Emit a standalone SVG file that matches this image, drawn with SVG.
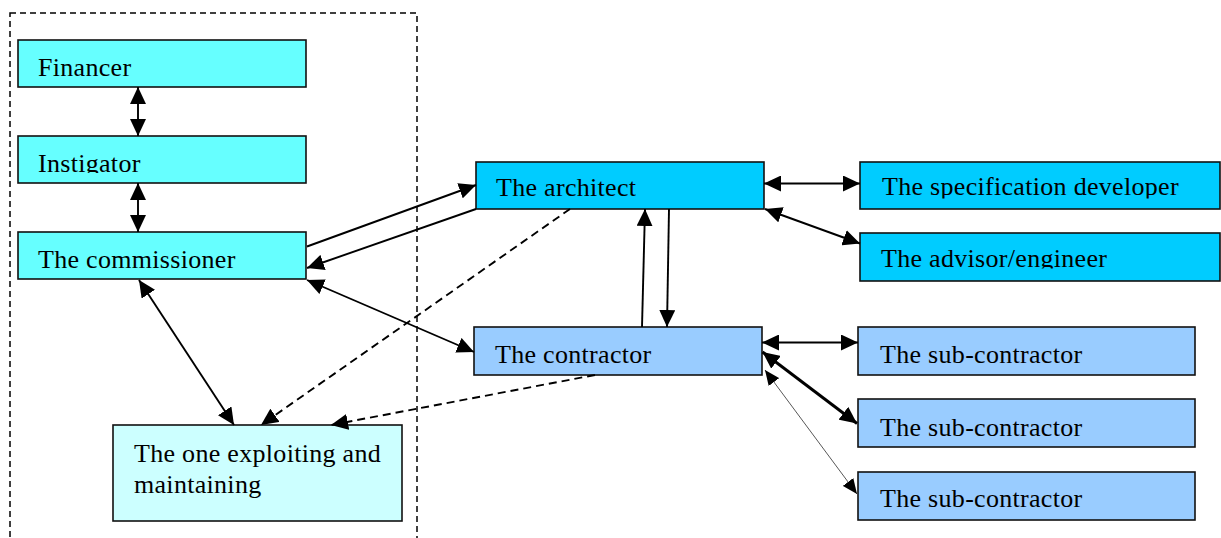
<svg xmlns="http://www.w3.org/2000/svg" width="1221" height="538" viewBox="0 0 1221 538">
  <style>
    .box { stroke: #111; stroke-width: 1.6; }
    .c1 { fill: #66FFFF; }
    .c2 { fill: #00CCFF; }
    .c3 { fill: #99CCFF; }
    .c4 { fill: #CCFFFF; }
    .lbl { font-family: "Liberation Serif", "Times New Roman", serif; font-size: 26px; letter-spacing: 0.3px; fill: #000; }
    .ln { stroke: #000; stroke-width: 1.9; fill: none; }
    .dash { stroke-dasharray: 8 5; }
    .frame { fill: none; stroke: #000; stroke-width: 1.5; stroke-dasharray: 6 4; }
  </style>
  <defs>
    <marker id="ah" markerUnits="userSpaceOnUse" markerWidth="17" markerHeight="16" refX="17" refY="8" orient="auto-start-reverse">
      <path d="M0,0 L17,8 L0,16 z" fill="#000"/>
    </marker>
    <marker id="ahs" markerUnits="userSpaceOnUse" markerWidth="15" markerHeight="13" refX="15" refY="6.5" orient="auto-start-reverse">
      <path d="M0,0 L15,6.5 L0,13 z" fill="#000"/>
    </marker>
    <clipPath id="clipInst"><rect x="18" y="136" width="288" height="37"/></clipPath>
    <clipPath id="clipSpec"><rect x="860" y="162" width="360" height="36.5"/></clipPath>
    <clipPath id="clipAdv"><rect x="860" y="233" width="360" height="35.5"/></clipPath>
  </defs>

  <rect width="1221" height="538" fill="#fff"/>

  <!-- client-side boundary, open at the bottom -->
  <rect class="frame" x="10" y="13" width="407" height="600"/>

  <g id="financer">
    <rect class="box c1" x="18" y="40" width="288" height="47"/>
    <text class="lbl" x="38" y="76">Financer</text>
  </g>
  <g id="instigator">
    <rect class="box c1" x="18" y="136" width="288" height="47"/>
    <text class="lbl" x="38" y="172" clip-path="url(#clipInst)">Instigator</text>
  </g>
  <g id="commissioner">
    <rect class="box c1" x="18" y="232" width="288" height="47"/>
    <text class="lbl" x="38" y="268">The commissioner</text>
  </g>
  <g id="exploiting">
    <rect class="box c4" x="113" y="425" width="289" height="96"/>
    <text class="lbl" x="134" y="462">The one exploiting and</text>
    <text class="lbl" x="134" y="493">maintaining</text>
  </g>
  <g id="architect">
    <rect class="box c2" x="476" y="162" width="288" height="47"/>
    <text class="lbl" x="496" y="196">The architect</text>
  </g>
  <g id="spec-developer">
    <rect class="box c2" x="860" y="162" width="360" height="47"/>
    <text class="lbl" x="882" y="195" clip-path="url(#clipSpec)">The specification developer</text>
  </g>
  <g id="advisor">
    <rect class="box c2" x="860" y="233" width="360" height="48"/>
    <text class="lbl" x="881" y="267" clip-path="url(#clipAdv)">The advisor/engineer</text>
  </g>
  <g id="contractor">
    <rect class="box c3" x="474" y="327" width="288" height="48"/>
    <text class="lbl" x="495" y="363">The contractor</text>
  </g>
  <g id="sub1">
    <rect class="box c3" x="858" y="327" width="337" height="48"/>
    <text class="lbl" x="880" y="363">The sub-contractor</text>
  </g>
  <g id="sub2">
    <rect class="box c3" x="858" y="399" width="337" height="48"/>
    <text class="lbl" x="880" y="436">The sub-contractor</text>
  </g>
  <g id="sub3">
    <rect class="box c3" x="858" y="472" width="337" height="48"/>
    <text class="lbl" x="880" y="507">The sub-contractor</text>
  </g>

  <g id="connectors">
    <line class="ln" x1="138" y1="87" x2="138" y2="136" marker-start="url(#ah)" marker-end="url(#ah)"/>
    <line class="ln" x1="138" y1="183" x2="138" y2="232" marker-start="url(#ah)" marker-end="url(#ah)"/>
    <line class="ln" x1="307" y1="246.5" x2="476" y2="185" marker-end="url(#ah)"/>
    <line class="ln" x1="476" y1="209" x2="307" y2="268" marker-end="url(#ah)"/>
    <line class="ln" x1="307" y1="280" x2="474" y2="352" marker-start="url(#ah)" marker-end="url(#ah)"/>
    <line class="ln" x1="139" y1="280" x2="234" y2="425" marker-start="url(#ah)" marker-end="url(#ah)"/>
    <line class="ln" x1="669" y1="209" x2="667" y2="327" marker-end="url(#ah)"/>
    <line class="ln" x1="642" y1="327" x2="645" y2="209" marker-end="url(#ah)"/>
    <line class="ln dash" x1="570" y1="209" x2="261" y2="425" marker-end="url(#ah)"/>
    <line class="ln dash" x1="595" y1="375" x2="331" y2="425" marker-end="url(#ah)"/>
    <line class="ln" x1="764" y1="183.5" x2="860" y2="183.5" marker-start="url(#ah)" marker-end="url(#ah)"/>
    <line class="ln" x1="765" y1="209" x2="860" y2="243.5" marker-start="url(#ah)" marker-end="url(#ah)"/>
    <line class="ln" x1="762" y1="342.5" x2="858" y2="342.5" marker-start="url(#ah)" marker-end="url(#ah)"/>
    <line class="ln" style="stroke-width:3" x1="762.5" y1="352" x2="857" y2="423.5" marker-start="url(#ah)" marker-end="url(#ah)"/>
    <line class="ln" style="stroke-width:0.9;stroke:#444" x1="765" y1="370" x2="857" y2="494" marker-start="url(#ahs)" marker-end="url(#ahs)"/>
  </g>
</svg>
